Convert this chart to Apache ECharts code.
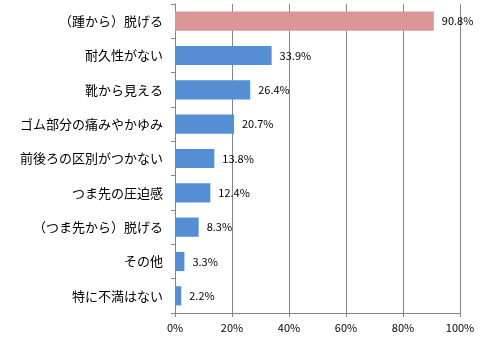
<!DOCTYPE html>
<html>
<head>
<meta charset="utf-8">
<script src="https://cdn.jsdelivr.net/npm/echarts@6/dist/echarts.min.js"></script>
<style>
  html, body { margin: 0; padding: 0; background: #fff; }
  #chart { width: 500px; height: 340px; }
</style>
</head>
<body>
<div id="chart"></div>
<script>
// Complaint categories, top to bottom
const categories = [
  '（踵から）脱げる',
  '耐久性がない',
  '靴から見える',
  'ゴム部分の痛みやかゆみ',
  '前後ろの区別がつかない',
  'つま先の圧迫感',
  '（つま先から）脱げる',
  'その他',
  '特に不満はない'
];
// Share of respondents (%)
const values = [90.8, 33.9, 26.4, 20.7, 13.8, 12.4, 8.3, 3.3, 2.2];
// Ticks on the value axis (%)
const ticks = [0, 20, 40, 60, 80, 100];

const BLUE = '#558ED5';
const PINK = '#D99694';
const FONT = '"Noto Sans CJK JP", "Noto Sans", sans-serif';

const chart = echarts.init(document.getElementById('chart'));
chart.setOption({
  animation: false,
  grid: { left: 175, right: 40, top: 4, bottom: 27, containLabel: false },
  xAxis: {
    type: 'value',
    min: ticks[0],
    max: ticks[ticks.length - 1],
    interval: ticks[1] - ticks[0],
    axisLine: { show: true, lineStyle: { color: '#868686' } },
    axisTick: { show: true, length: 4, lineStyle: { color: '#868686' } },
    splitLine: { show: true, lineStyle: { color: '#868686', width: 1 } },
    axisLabel: { formatter: '{value}%', color: '#000', fontSize: 11, fontFamily: FONT, margin: 9 }
  },
  yAxis: {
    type: 'category',
    data: categories,
    inverse: true,
    axisLine: { show: true, lineStyle: { color: '#868686' } },
    axisTick: { show: true, length: 4, lineStyle: { color: '#868686' } },
    axisLabel: { color: '#000', fontSize: 13, fontFamily: FONT, margin: 12 }
  },
  series: [{
    type: 'bar',
    data: values.map((v, i) => ({ value: v, itemStyle: { color: i === 0 ? PINK : BLUE } })),
    barWidth: '56%',
    label: {
      show: true,
      position: 'right',
      distance: 8,
      formatter: p => p.value.toFixed(1) + '%',
      color: '#000',
      fontSize: 11,
      fontFamily: FONT
    }
  }]
});
</script>
</body>
</html>
